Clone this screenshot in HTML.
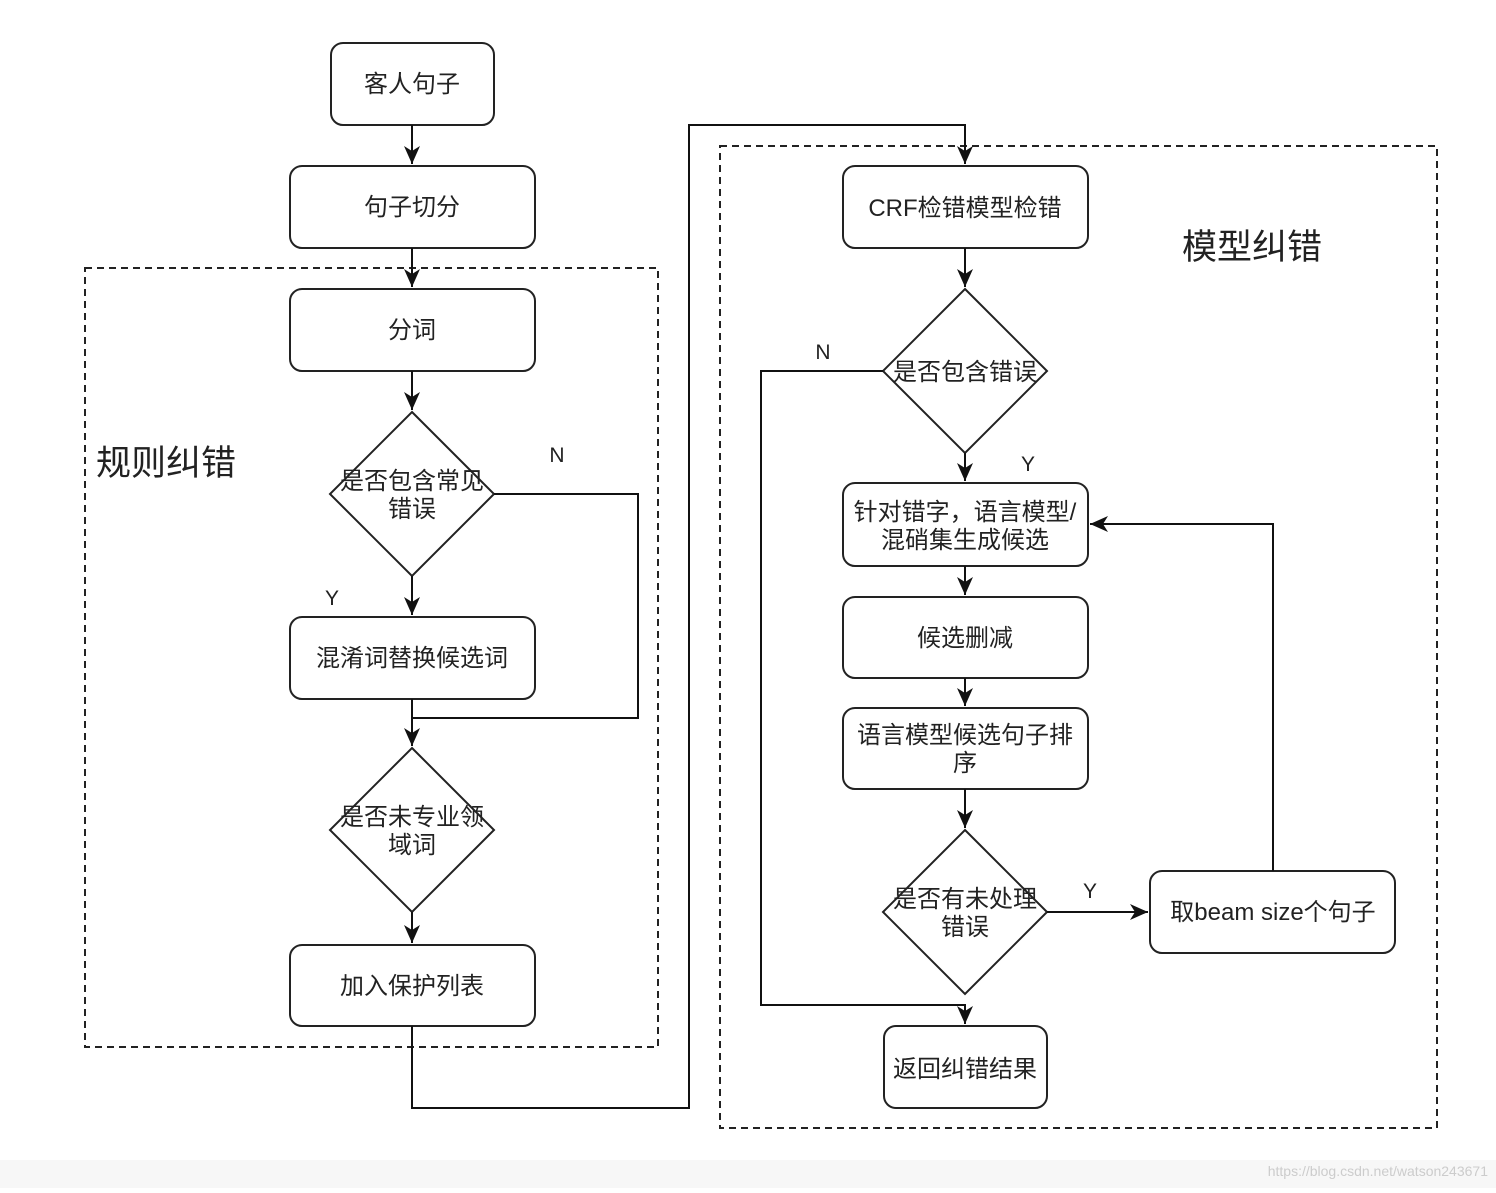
<!DOCTYPE html>
<html><head><meta charset="utf-8"><style>
html,body{margin:0;padding:0;background:#fff;}
text{font-family:"Liberation Sans","Noto Sans CJK SC",sans-serif;fill:#222;}
</style></head><body>
<svg width="1496" height="1188" viewBox="0 0 1496 1188" xmlns="http://www.w3.org/2000/svg">
<defs>
<marker id="b" markerWidth="20" markerHeight="20" refX="18" refY="8" orient="auto" markerUnits="userSpaceOnUse"><path d="M0,0 L18,8 L0,16 L5,8 Z" fill="#111"/></marker></defs>
<rect x="0" y="1160" width="1496" height="28" fill="#f7f7f7"/>
<text x="1488" y="1176" font-size="14" text-anchor="end" style="fill:#ccc">https://blog.csdn.net/watson243671</text>
<g fill="none" stroke="#222" stroke-width="2" stroke-dasharray="7,5">
<rect x="85" y="268" width="573" height="779"/>
<rect x="720" y="146" width="717" height="982"/>
</g>
<g fill="#fff" stroke="#222" stroke-width="2">
<rect x="331" y="43" width="163" height="82" rx="12"/>
<rect x="290" y="166" width="245" height="82" rx="12"/>
<rect x="290" y="289" width="245" height="82" rx="12"/>
<polygon points="412,412 494,494 412,576 330,494"/>
<rect x="290" y="617" width="245" height="82" rx="12"/>
<polygon points="412,748 494,830 412,912 330,830"/>
<rect x="290" y="945" width="245" height="81" rx="12"/>
<rect x="843" y="166" width="245" height="82" rx="12"/>
<polygon points="965,289 1047,371 965,453 883,371"/>
<rect x="843" y="483" width="245" height="83" rx="12"/>
<rect x="843" y="597" width="245" height="81" rx="12"/>
<rect x="843" y="708" width="245" height="81" rx="12"/>
<polygon points="965,830 1047,912 965,994 883,912"/>
<rect x="1150" y="871" width="245" height="82" rx="12"/>
<rect x="884" y="1026" width="163" height="82" rx="12"/>
</g>
<g fill="none" stroke="#111" stroke-width="2">
<path d="M412,125 V164" marker-end="url(#b)"/>
<path d="M412,248 V287" marker-end="url(#b)"/>
<path d="M412,371 V410" marker-end="url(#b)"/>
<path d="M412,576 V615" marker-end="url(#b)"/>
<path d="M494,494 H638 V718 H412"/>
<path d="M412,699 V746" marker-end="url(#b)"/>
<path d="M412,912 V943" marker-end="url(#b)"/>
<path d="M412,1026 V1108 H689 V125 H965 V164" marker-end="url(#b)"/>
<path d="M965,248 V287" marker-end="url(#b)"/>
<path d="M965,453 V481" marker-end="url(#b)"/>
<path d="M883,371 H761 V1005 H965 V1024" marker-end="url(#b)"/>
<path d="M965,566 V595" marker-end="url(#b)"/>
<path d="M965,678 V706" marker-end="url(#b)"/>
<path d="M965,789 V828" marker-end="url(#b)"/>
<path d="M1047,912 H1148" marker-end="url(#b)"/>
<path d="M1273,871 V524 H1090" marker-end="url(#b)"/>
</g>
<g font-size="24" text-anchor="middle">
<text x="412" y="92">客人句子</text>
<text x="412" y="215">句子切分</text>
<text x="412" y="338">分词</text>
<text x="412" y="489">是否包含常见</text>
<text x="412" y="517">错误</text>
<text x="412" y="666">混淆词替换候选词</text>
<text x="412" y="825">是否未专业领</text>
<text x="412" y="853">域词</text>
<text x="412" y="994">加入保护列表</text>
<text x="965" y="216">CRF检错模型检错</text>
<text x="965" y="380">是否包含错误</text>
<text x="965" y="520">针对错字，语言模型/</text>
<text x="965" y="548">混硝集生成候选</text>
<text x="965" y="646">候选删减</text>
<text x="965" y="743">语言模型候选句子排</text>
<text x="965" y="771">序</text>
<text x="965" y="907">是否有未处理</text>
<text x="965" y="935">错误</text>
<text x="1273" y="920">取beam size个句子</text>
<text x="965" y="1077">返回纠错结果</text>
</g>
<g font-size="21" text-anchor="middle">
<text x="557" y="462">N</text>
<text x="332" y="605">Y</text>
<text x="823" y="359">N</text>
<text x="1028" y="471">Y</text>
<text x="1090" y="898">Y</text>
</g>
<text x="166" y="475" font-size="35" text-anchor="middle">规则纠错</text>
<text x="1252" y="259" font-size="35" text-anchor="middle">模型纠错</text>
</svg>
</body></html>
